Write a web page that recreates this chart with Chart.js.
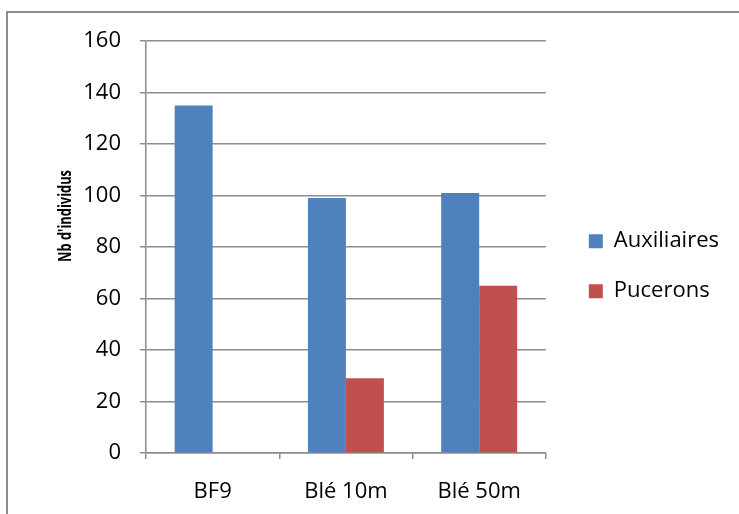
<!DOCTYPE html>
<html>
<head>
<meta charset="utf-8">
<script src="https://cdn.jsdelivr.net/npm/chart.js@4/dist/chart.umd.min.js"></script>
<style>
  html, body { margin: 0; padding: 0; background: #fff; overflow: hidden; }
  #cadre { position: absolute; left: 6px; top: 11px; width: 800px; height: 600px; border: 2px solid #8c8c8c; }
  #graphique { position: absolute; left: 0; top: 0; }
</style>
</head>
<body>
<div id="cadre"></div>
<canvas id="graphique" width="739" height="514"></canvas>
<script>
/*---- donnees ----- */
var stations = ["BF9", "Blé 10m", "Blé 50m"];
var auxiliaires = [135, 99, 101];
var pucerons = [0, 29, 65];
var titreY = "Nb d'individus";

var police = "'Open Sans', sans-serif";
var gris = '#8c8c8c';

/*---- titre axe y (place comme dans Excel, un peu au dessus du milieu) ----- */
var titreAxe = {
    id: 'titreAxe',
    afterDraw: function(chart) {
        var c = chart.ctx;
        c.save();
        c.font = "bold 18px 'Open Sans', sans-serif";
        var larg = c.measureText(titreY).width;
        c.translate(66, 216);
        c.rotate(-Math.PI / 2);
        c.scale(92 / larg, 1);   // police etroite comme Calibri
        c.fillStyle = '#000';
        c.textAlign = 'center';
        c.textBaseline = 'middle';
        c.fillText(titreY, 0, 0);
        c.restore();
    }
};

var ctx = document.getElementById('graphique').getContext('2d');
var graphique = new Chart(ctx, {
    type: 'bar',
    data: {
        labels: stations,
        datasets: [{
            label: "Auxiliaires",
            data: auxiliaires,
            backgroundColor: '#4F81BD',
            borderWidth: 0
        }, {
            label: "Pucerons",
            data: pucerons,
            backgroundColor: '#C0504D',
            borderWidth: 0
        }]
    },
    options: {
        responsive: false,
        animation: false,
        layout: { padding: { left: 50, top: 41, bottom: 9, right: 10 } },
        categoryPercentage: 0.57,
        barPercentage: 1,
        plugins: {
            tooltip: { enabled: false },
            legend: {
                position: 'right',
                fullSize: false,
                maxWidth: 250,
                title: { display: true, text: '', padding: 12, font: { size: 12 } },
                labels: {
                    boxWidth: 14,
                    boxHeight: 14,
                    padding: 28,
                    color: '#000',
                    font: { family: police, size: 22 }
                }
            }
        },
        scales: {
            x: {
                grid: { drawOnChartArea: false, drawTicks: true, tickLength: 6, color: gris, lineWidth: 1.5 },
                border: { color: gris, width: 1.5 },
                ticks: { color: '#000', padding: 20, font: { family: police, size: 22 } },
                afterFit: function(s) { s.height = 52; }
            },
            y: {
                min: 0,
                max: 160,
                ticks: { stepSize: 20, color: '#000', padding: 19, font: { family: police, size: 22 } },
                grid: { color: gris, lineWidth: 1.5, tickLength: 6 },
                border: { color: gris, width: 1.5 },
                afterFit: function(s) { s.width = 96; }
            },
            y2: {
                position: 'right',
                display: true,
                grid: { display: false },
                border: { display: false },
                ticks: { display: false },
                afterFit: function(s) { s.width = 15; }
            }
        }
    },
    plugins: [titreAxe]
});
</script>
</body>
</html>
